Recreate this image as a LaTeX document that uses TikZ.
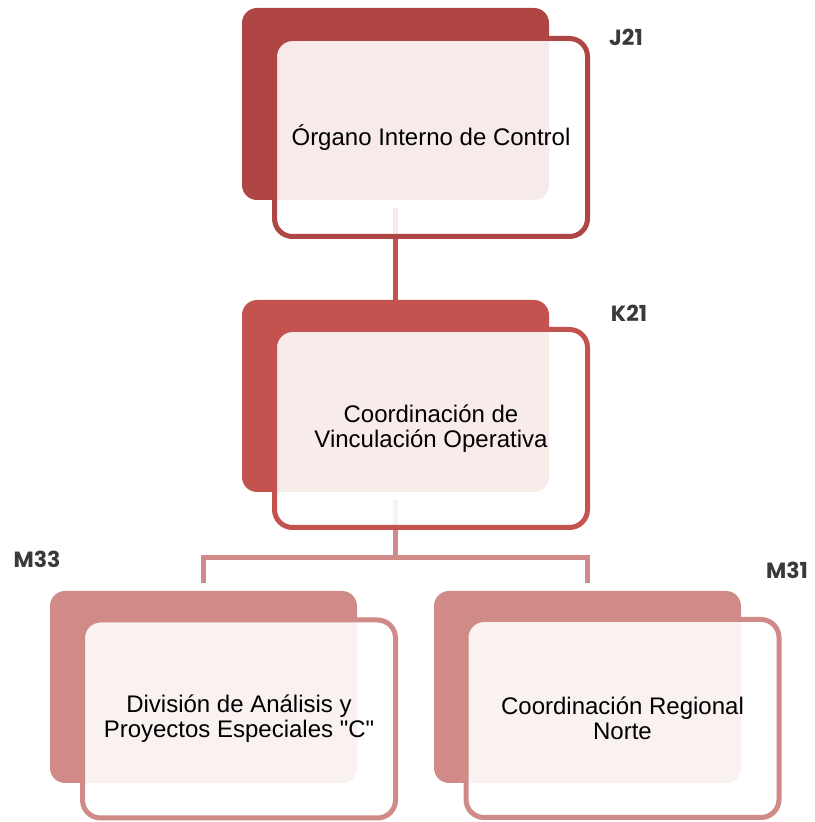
\documentclass[tikz,border=0pt]{standalone}
\usepackage{fontspec}
\setmainfont{Liberation Sans}[Ligatures=TeXOff]
\newfontfamily\clavefont{Poppins}
\usetikzlibrary{calc,positioning,backgrounds}
\definecolor{rojoosc}{HTML}{B04644}
\definecolor{rojomed}{HTML}{C4524F}
\definecolor{rojoclaro}{HTML}{D08A88}
\definecolor{gristexto}{HTML}{3A3A3A}

\begin{document}
\begin{tikzpicture}[x=1pt, y=1pt,
  fondo/.style={rounded corners=15pt, minimum width=307pt, minimum height=192pt, inner sep=0pt},
  marco/.style={draw, line width=5pt, rounded corners=18pt, fill=white, fill opacity=0.89, text opacity=1,
    minimum width=313pt, minimum height=198pt, align=center, inner sep=0pt, font=\fontsize{24}{25}\selectfont},
  clave/.style={font=\clavefont\bfseries\fontsize{22}{24}\selectfont, text=gristexto},
  enlace/.style={line width=5pt}]
\useasboundingbox (0,0) rectangle (814,822);
\node[fondo, fill=rojoosc] (f1) at (395.5,718) {};
\node[marco, draw=rojoosc] (oic) at ($(f1)+(35.5,-33.5)$) {Órgano Interno de Control};
\node[fondo, fill=rojomed] (f2) at (395.5,426) {};
\node[marco, draw=rojomed] (cvo) at ($(f2)+(35.5,-32.5)$) {Coordinación de\\Vinculación Operativa};
\node[fondo, fill=rojoclaro] (f3) at (203.5,135) {};
\node[marco, draw=rojoclaro] (dape) at ($(f3)+(35.5,-32)$) {División de Análisis y\\Proyectos Especiales "C"};
\node[fondo, fill=rojoclaro] (f4) at (587.5,135) {};
\node[marco, draw=rojoclaro] (crn) at ($(f4)+(35,-31.5)$) {Coordinación Regional\\Norte};
\node[clave] (j21) at (626,785) {J21};
\node[clave] (k21) at (629,509) {K21};
\node[clave] (m33) at (37,263) {M33};
\node[clave] (m31) at (787,252) {M31};
\coordinate (split) at ($(f2.south)+(0,-65)$);
% las lineas quedan detras de los recuadros semitransparentes
\begin{scope}[on background layer]
\draw[enlace, rojomed] ([yshift=-8pt]f1.south) -- (f2.north);
\draw[enlace, rojoclaro] ([yshift=-8pt]f2.south) -- (split);
\draw[enlace, rojoclaro] ([yshift=8pt]f3.north) |- (split) -| ([yshift=8pt]f4.north);
\end{scope}
\end{tikzpicture}
\end{document}
